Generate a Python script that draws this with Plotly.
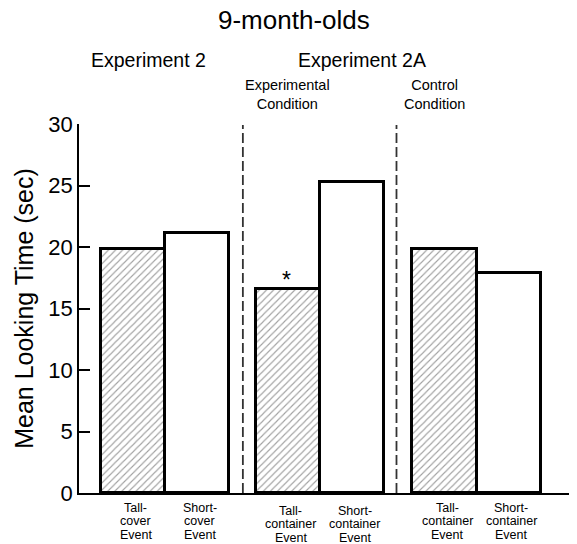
import plotly.graph_objects as go

# ---- data ----
categories = ["Tall-cover Event", "Short-cover Event",
              "Tall-container Event", "Short-container Event",
              "Tall-container Event", "Short-container Event"]
category_lines = [["Tall-", "cover", "Event"], ["Short-", "cover", "Event"],
                  ["Tall-", "container", "Event"], ["Short-", "container", "Event"],
                  ["Tall-", "container", "Event"], ["Short-", "container", "Event"]]
looking_time = [19.8, 21.1, 16.6, 25.3, 19.8, 17.9]
hatched = [True, False, True, False, True, False]
x_pos = [0, 1, 2.42, 3.42, 4.86, 5.86]
y_ticks = [0, 5, 10, 15, 20, 25, 30]
experiment_labels = ["Experiment 2", "Experiment 2A"]
condition_labels = ["Experimental<br>Condition", "Control<br>Condition"]
significant = [False, False, True, False, False, False]

FONT = "Liberation Sans, Arial, Helvetica, sans-serif"

# page has an 8px body margin: figure is offset by (8, 8) in the window
OFF = 8
TOP = 124 - OFF      # plot top in figure px
BOT = 493 - OFF      # plot bottom in figure px
H = BOT - TOP

fig = go.Figure()

fig.add_trace(go.Bar(
    x=x_pos, y=looking_time, width=1.0,
    marker=dict(
        color="white",
        line=dict(color="black", width=3),
        pattern=dict(
            shape=["/" if h else "" for h in hatched],
            size=5, solidity=0.22, fgcolor="#444444", bgcolor="white",
        ),
    ),
    showlegend=False, hoverinfo="skip",
))

def py(p):
    # p is a window pixel y
    return (493 - p) / H

annotations = []
annotations.append(dict(text="9-month-olds", x=2.51, y=py(20), xref="x", yref="paper",
                        showarrow=False, font=dict(size=26, family=FONT, color="black"),
                        xanchor="center", yanchor="middle"))
for txt, xx in zip(experiment_labels, [0.23, 3.57]):
    annotations.append(dict(text=txt, x=xx, y=py(60), xref="x", yref="paper",
                            showarrow=False, font=dict(size=19.5, family=FONT, color="black"),
                            xanchor="center", yanchor="middle"))
for txt, xx in zip(condition_labels, [2.41, 4.70]):
    annotations.append(dict(text=txt, x=xx, y=py(95), xref="x", yref="paper",
                            showarrow=False, font=dict(size=14.5, family=FONT, color="black"),
                            xanchor="center", yanchor="middle"))
for i, (lines, xx) in enumerate(zip(category_lines, x_pos)):
    base = 510.5 if i in (2, 3) else 507.5
    for j, ln in enumerate(lines):
        annotations.append(dict(text=ln, x=xx + 0.04, y=py(base + 13.5 * j), xref="x", yref="paper",
                                showarrow=False, font=dict(size=12.5, family=FONT, color="black"),
                                xanchor="center", yanchor="middle"))
for xx, v, s in zip(x_pos, looking_time, significant):
    if s:
        annotations.append(dict(text="*", x=xx - 0.03, y=v + 0.2, xref="x", yref="y",
                                showarrow=False, font=dict(size=23, family=FONT, color="black"),
                                xanchor="center", yanchor="bottom", yshift=-9))

shapes = []
for xx in [1.71, 4.11]:
    shapes.append(dict(type="line", x0=xx, x1=xx, y0=0, y1=0.997, xref="x", yref="paper",
                       line=dict(color="#333333", width=1.8, dash="10px,4px")))

fig.update_layout(
    width=577 - OFF, height=544 - OFF,
    margin=dict(l=79 - OFF, r=0, t=TOP, b=(544 - OFF) - BOT, autoexpand=False),
    plot_bgcolor="white", paper_bgcolor="white",
    bargap=0,
    annotations=annotations,
    shapes=shapes,
    font=dict(family=FONT, color="black"),
)
fig.update_xaxes(range=[-0.85, 6.93], showline=True, linecolor="black", linewidth=1.5,
                 showticklabels=False, ticks="", showgrid=False, zeroline=False)
fig.update_yaxes(range=[0, 30], tickvals=y_ticks, showline=True, linecolor="black", linewidth=1.5,
                 ticks="inside", ticklen=11, tickwidth=1.5, tickcolor="black",
                 tickfont=dict(size=22, family=FONT, color="black"),
                 showgrid=False, zeroline=False,
                 title=dict(text="Mean Looking Time (sec)", font=dict(size=25, family=FONT, color="black"),
                            standoff=8))

fig.write_html("out.html")
